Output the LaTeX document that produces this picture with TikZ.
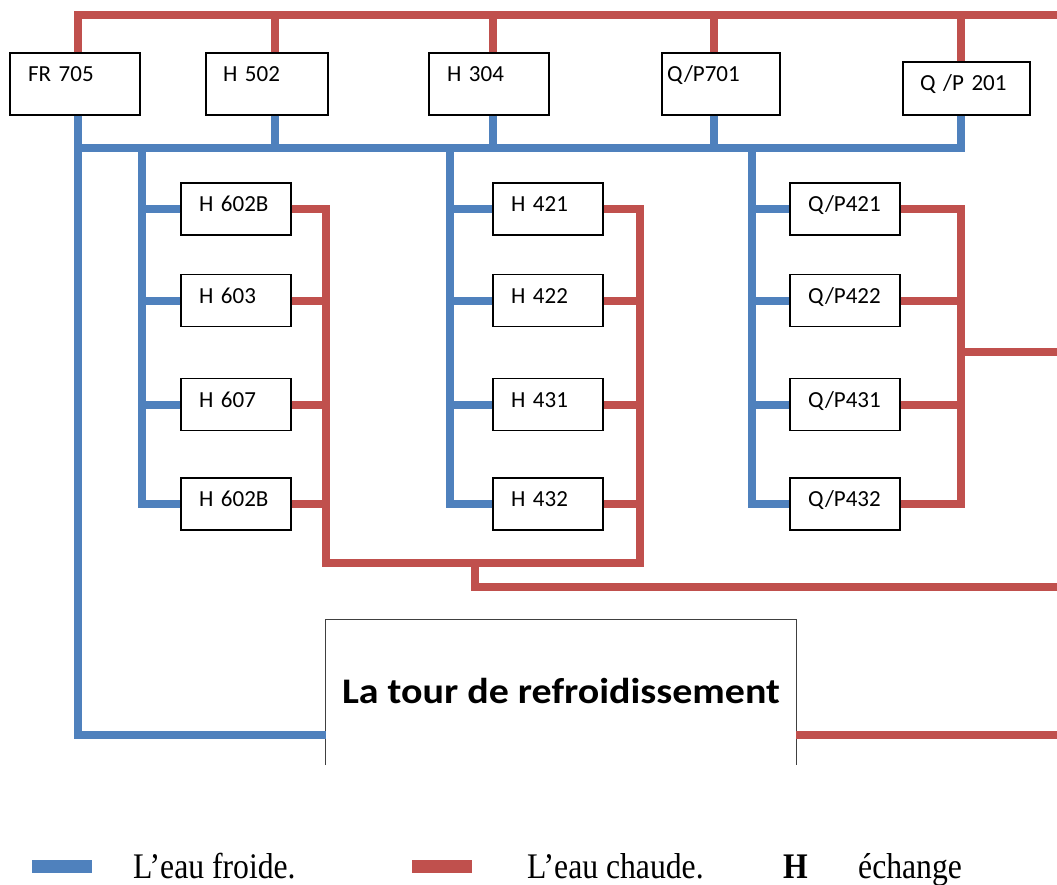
\documentclass[tikz,border=0pt]{standalone}
\usepackage{fontspec}
\setmainfont{Liberation Serif}
\newfontfamily\calib{Carlito}
\usetikzlibrary{positioning}
\definecolor{froid}{HTML}{4F81BD}
\definecolor{chaud}{HTML}{C0504D}

\begin{document}
\begin{tikzpicture}[x=1pt, y=-1pt,
  pipe froid/.style={line width=8pt, froid},
  pipe chaud/.style={line width=8pt, chaud},
  unite/.style={draw, line width=1.2pt, rectangle, inner sep=0pt, align=left,
    font=\calib\fontsize{23}{26}\selectfont},
  grande/.style={unite, minimum height=62pt, text height=15pt, text depth=20pt},
  petite/.style={unite, minimum width=110pt, minimum height=52pt, text width=74pt,
    text height=15pt, text depth=10pt},
  legende/.style={anchor=base west, inner sep=0pt, font=\fontsize{36}{40}\selectfont}]

\useasboundingbox (0,0) rectangle (1057,885);

% units on top
\node[grande, minimum width=130pt, text width=94pt] (fr) at (75,84) {FR 705};
\node[grande, minimum width=122pt, text width=88pt] (h502) at (267,84) {H 502};
\node[grande, minimum width=120pt, text width=84pt] (h304) at (489,84) {H 304};
\node[grande, minimum width=118pt, text width=108pt] (qp701) at (721,84) {Q/P701};
\node[unite, minimum width=127pt, minimum height=53pt, text width=93pt,
  text height=15pt, text depth=11pt] (qp201) at (966.5,88.5) {Q /P 201};

% hot water header
\coordinate (chaudhaut) at (1057,15);
\draw[pipe chaud] ([xshift=3pt]fr.north) |- (chaudhaut);
\foreach \u/\dx in {h502/8, h304/4, qp701/-7, qp201/-5.5}
  \draw[pipe chaud] ([xshift=\dx pt]\u.north) -- ([xshift=\dx pt]\u.north |- chaudhaut);

% cold water header
\coordinate (froidhaut) at (78,148);
\draw[pipe froid] (froidhaut) -| ([xshift=-5.5pt]qp201.south);
\foreach \u/\dx in {h502/8, h304/4, qp701/-7}
  \draw[pipe froid] ([xshift=\dx pt]\u.south) -- ([xshift=\dx pt]\u.south |- froidhaut);

% exchangers
\def\rangees{{209,300.5,404.5,504}}
\foreach \col/\cx/\froidx/\chaudx/\noms in {g/236/142/326/{H 602B,H 603,H 607,H 602B},
    m/548/450/640/{H 421,H 422,H 431,H 432},
    r/845/752/961/{Q/P421,Q/P422,Q/P431,Q/P432}}
{
  \coordinate (\col f) at (\froidx,148);
  \coordinate (\col c) at (\chaudx,563);
  \foreach \nom [count=\r] in \noms
  {
    \pgfmathsetmacro\y{\rangees[\r-1]}
    \node[petite] (\col\r) at (\cx,\y) {\nom};
    \draw[pipe froid] (\col\r.west) -- (\col\r.west -| \col f);
    \draw[pipe chaud] (\col\r.east) -- (\col\r.east -| \col c);
  }
  \draw[pipe froid] (\col f) |- (\col4.west);
}

% hot returns
\draw[pipe chaud] (g1.east) -| (gc) -- (mc) |- (m1.east);
\draw[pipe chaud] (r1.east) -| (r4.east -| rc) -- (r4.east);
\coordinate (sortie1) at (1057,352);
\draw[pipe chaud] (sortie1 -| rc) -- (sortie1);
\coordinate (piquage) at (475,563);
\coordinate (sortie2) at (1057,587);
\draw[pipe chaud] (piquage) |- (sortie2);

% cooling tower
\node[font=\calib\bfseries\fontsize{36}{40}\selectfont, minimum width=470pt,
  minimum height=145pt, inner sep=0pt] (tour) at (561,692.5)
  {\raisebox{3pt}{\scalebox{1.11}[1]{La tour de refroidissement}}};
\draw[line width=0.8pt, black!75] (tour.south west) -- (tour.north west)
  -- (tour.north east) -- (tour.south east);
\draw[pipe froid] ([xshift=3pt]fr.south) |- ([yshift=-42.5pt]tour.west);
\coordinate (sortie3) at (1057,735);
\draw[pipe chaud] ([yshift=-42.5pt]tour.east) -- (sortie3);

% legend
\fill[froid] (32,860) rectangle (92,873);
\fill[chaud] (412,860) rectangle (472,873);
\node[legende] (lf) at (133,878) {\scalebox{0.88}[1]{L’eau froide.}};
\node[legende] (lc) at (527,878) {\scalebox{0.88}[1]{L’eau chaude.}};
\node[legende] (lh) at (783,878) {\scalebox{0.88}[1]{\textbf{H}}};
\node[legende] (le) at (858,878) {\scalebox{0.88}[1]{échange}};
\end{tikzpicture}
\end{document}
